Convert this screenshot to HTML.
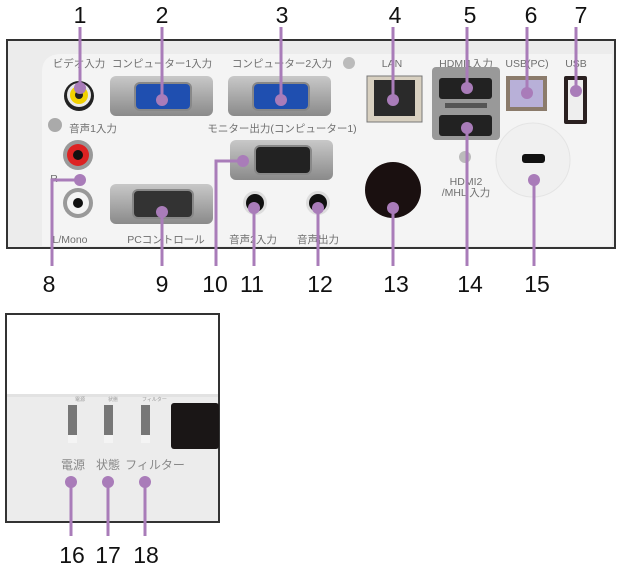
<!DOCTYPE html>
<html><head><meta charset="utf-8"><style>
html,body{margin:0;padding:0;background:#fff;width:622px;height:569px;overflow:hidden}
svg{display:block}
.n{font-family:"Liberation Sans","DejaVu Sans",sans-serif;font-size:23px;fill:#111;text-anchor:middle}
.l{font-family:"Liberation Sans","Noto Sans CJK JP",sans-serif;font-size:10.5px;fill:#6f6f6f;text-anchor:middle}
.p{stroke:#a97cb9;stroke-width:3;fill:none}
.d{fill:#a97cb9}
</style></head><body>
<svg width="622" height="569" viewBox="0 0 622 569">
<defs>
<linearGradient id="met" x1="0" y1="0" x2="0" y2="1"><stop offset="0" stop-color="#c8c8c8"/><stop offset="1" stop-color="#8a8a8a"/></linearGradient>
</defs>
<rect x="7" y="40" width="608" height="208" fill="#ececec" stroke="#333" stroke-width="2"/>
<path d="M42 246 V72 Q42 54 62 54 H612 V246 Z" fill="#f4f4f4"/>
<text class="l" x="79" y="67">ビデオ入力</text>
<text class="l" x="162" y="67">コンピューター1入力</text>
<text class="l" x="282" y="67">コンピューター2入力</text>
<text class="l" x="392" y="67">LAN</text>
<text class="l" x="466" y="67">HDMI1入力</text>
<text class="l" x="527" y="67">USB(PC)</text>
<text class="l" x="576" y="67">USB</text>
<text class="l" x="93" y="132">音声1入力</text>
<text class="l" x="282" y="132">モニター出力(コンピューター1)</text>
<text class="l" x="54" y="182">R</text>
<text class="l" x="70" y="243">L/Mono</text>
<text class="l" x="166" y="243">PCコントロール</text>
<text class="l" x="253" y="243">音声2入力</text>
<text class="l" x="318" y="243">音声出力</text>
<text class="l" x="466" y="185">HDMI2</text>
<text class="l" x="466" y="196">/MHL 入力</text>
<circle cx="79" cy="96" r="15" fill="#222"/><circle cx="79" cy="95" r="12" fill="#e8e8e8"/><circle cx="79" cy="95" r="9" fill="#f2d100"/><circle cx="79" cy="95" r="4" fill="#222"/>
<circle cx="78" cy="155" r="15" fill="#999"/><circle cx="78" cy="155" r="11" fill="#d22"/><circle cx="78" cy="155" r="5" fill="#111"/>
<circle cx="78" cy="203" r="15" fill="#999"/><circle cx="78" cy="203" r="11" fill="#f4f4f4"/><circle cx="78" cy="203" r="5" fill="#111"/>
<circle cx="55" cy="125" r="7" fill="#aaa"/>
<rect x="110" y="76" width="103" height="40" rx="6" fill="url(#met)"/>
<rect x="135" y="83" width="56" height="27" rx="5" fill="#1f4fb0" stroke="#888" stroke-width="2"/>
<rect x="228" y="76" width="103" height="40" rx="6" fill="url(#met)"/>
<rect x="253" y="83" width="56" height="27" rx="5" fill="#1f4fb0" stroke="#888" stroke-width="2"/>
<rect x="230" y="140" width="103" height="40" rx="6" fill="url(#met)"/>
<rect x="255" y="146" width="56" height="28" rx="5" fill="#222" stroke="#888" stroke-width="2"/>
<rect x="110" y="184" width="103" height="40" rx="6" fill="url(#met)"/>
<rect x="133" y="190" width="60" height="28" rx="5" fill="#333" stroke="#888" stroke-width="2"/>
<circle cx="255" cy="203" r="12" fill="#ddd"/><circle cx="255" cy="203" r="9" fill="#111"/>
<circle cx="318" cy="203" r="12" fill="#ddd"/><circle cx="318" cy="203" r="9" fill="#111"/>
<circle cx="393" cy="190" r="28" fill="#1a1010"/>
<rect x="367" y="76" width="55" height="46" fill="#d8d0c0" stroke="#777"/>
<rect x="374" y="80" width="41" height="36" fill="#2a2a2a"/>
<circle cx="349" cy="63" r="6" fill="#bbb"/>
<rect x="432" y="67" width="68" height="73" rx="4" fill="#999"/>
<rect x="439" y="78" width="53" height="21" rx="3" fill="#222"/>
<rect x="439" y="115" width="53" height="21" rx="3" fill="#222"/>
<rect x="445" y="103" width="42" height="5" fill="#555"/>
<circle cx="465" cy="157" r="6" fill="#bbb"/>
<rect x="506" y="76" width="41" height="35" fill="#8b7b6b"/><rect x="510" y="80" width="33" height="27" fill="#b8b0d8"/>
<rect x="564" y="76" width="23" height="48" rx="2" fill="#2a2020"/><rect x="568" y="80" width="15" height="40" fill="#eee"/>
<circle cx="533" cy="160" r="37" fill="#f0f0f0" stroke="#e4e4e4"/>
<rect x="522" y="154" width="23" height="9" rx="3" fill="#111"/>
<g class="p">
<path d="M80 27 V88"/><path d="M162 27 V100"/><path d="M281 27 V100"/><path d="M393 27 V100"/>
<path d="M467 27 V88"/><path d="M527 27 V93"/><path d="M576 27 V91"/>
<path d="M80 180 H52 V266"/><path d="M162 212 V266"/><path d="M243 161 H216 V266"/>
<path d="M254 208 V266"/><path d="M318 208 V266"/><path d="M393 208 V266"/>
<path d="M467 128 V266"/><path d="M534 180 V266"/>
</g>
<g class="d">
<circle cx="80" cy="88" r="6"/><circle cx="162" cy="100" r="6"/><circle cx="281" cy="100" r="6"/><circle cx="393" cy="100" r="6"/>
<circle cx="467" cy="88" r="6"/><circle cx="527" cy="93" r="6"/><circle cx="576" cy="91" r="6"/>
<circle cx="80" cy="180" r="6"/><circle cx="162" cy="212" r="6"/><circle cx="243" cy="161" r="6"/>
<circle cx="254" cy="208" r="6"/><circle cx="318" cy="208" r="6"/><circle cx="393" cy="208" r="6"/>
<circle cx="467" cy="128" r="6"/><circle cx="534" cy="180" r="6"/>
</g>
<g class="n">
<text x="80" y="23">1</text><text x="162" y="23">2</text><text x="282" y="23">3</text><text x="395" y="23">4</text>
<text x="470" y="23">5</text><text x="531" y="23">6</text><text x="581" y="23">7</text>
<text x="49" y="292">8</text><text x="162" y="292">9</text><text x="215" y="292">10</text><text x="252" y="292">11</text>
<text x="320" y="292">12</text><text x="396" y="292">13</text><text x="470" y="292">14</text><text x="537" y="292">15</text>
<text x="72" y="563">16</text><text x="108" y="563">17</text><text x="146" y="563">18</text>
</g>
<rect x="6" y="314" width="213" height="208" fill="#fff" stroke="#333" stroke-width="2"/>
<rect x="7" y="394" width="211" height="127" fill="#ececec"/>
<rect x="7" y="394" width="211" height="3" fill="#e2e2e2"/>
<text x="75" y="401" style="font-family:'Liberation Sans','Noto Sans CJK JP',sans-serif;font-size:5px;fill:#999">電源</text>
<text x="108" y="401" style="font-family:'Liberation Sans','Noto Sans CJK JP',sans-serif;font-size:5px;fill:#999">状態</text>
<text x="142" y="401" style="font-family:'Liberation Sans','Noto Sans CJK JP',sans-serif;font-size:5px;fill:#999">フィルター</text>
<rect x="68" y="405" width="9" height="30" fill="#777"/><rect x="68" y="435" width="9" height="8" fill="#f4f4f4"/>
<rect x="104" y="405" width="9" height="30" fill="#777"/><rect x="104" y="435" width="9" height="8" fill="#f4f4f4"/>
<rect x="141" y="405" width="9" height="30" fill="#777"/><rect x="141" y="435" width="9" height="8" fill="#f4f4f4"/>
<rect x="171" y="403" width="48" height="46" rx="3" fill="#1a1616"/>
<text x="73" y="469" style="font-family:'Liberation Sans','Noto Sans CJK JP',sans-serif;font-size:12px;fill:#888;text-anchor:middle">電源</text>
<text x="108" y="469" style="font-family:'Liberation Sans','Noto Sans CJK JP',sans-serif;font-size:12px;fill:#888;text-anchor:middle">状態</text>
<text x="155" y="469" style="font-family:'Liberation Sans','Noto Sans CJK JP',sans-serif;font-size:12px;fill:#888;text-anchor:middle">フィルター</text>
<g class="p"><path d="M71 482 V536"/><path d="M108 482 V536"/><path d="M145 482 V536"/></g>
<g class="d"><circle cx="71" cy="482" r="6"/><circle cx="108" cy="482" r="6"/><circle cx="145" cy="482" r="6"/></g>
</svg>
</body></html>
